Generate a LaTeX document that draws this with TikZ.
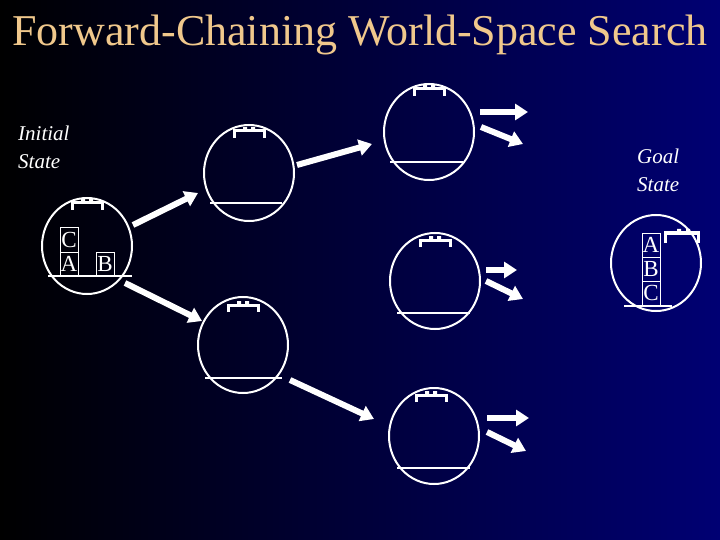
\documentclass[tikz,border=0pt]{standalone}
\usepackage{fontspec}
\setmainfont{Liberation Serif}
\usetikzlibrary{arrows.meta,shapes.geometric}
\definecolor{navybg}{RGB}{0,0,115}
\definecolor{titlec}{RGB}{240,200,140}
\tikzset{
  world/.style={draw=white,line width=2pt,ellipse,minimum width=90pt,minimum height=96pt,inner sep=0pt},
  floorline/.style={white,line width=1.6pt},
  bigarrow/.style={white,line width=6pt,-{Triangle[length=13pt,width=16pt]}},
  blk/.style={draw=white,line width=1pt,minimum width=18pt,minimum height=24pt,inner sep=0pt,text=white,font=\fontsize{23}{23}\selectfont},
  lbl/.style={text=white,font=\itshape\fontsize{21}{28}\selectfont,align=left,anchor=north west,inner sep=0pt},
  gripper/.pic={
    \draw[white,line width=3pt] (-15,7) -- (-15,0) -- (15,0) -- (15,7);
    \fill[white] (-6,-4) rectangle (-2,0) (2,-4) rectangle (6,0);
  }
}
\begin{document}
\begin{tikzpicture}[x=1pt,y=-1pt]
\shade[left color=black,right color=navybg] (0,0) rectangle (720,540);
\useasboundingbox (0,0) rectangle (720,540);
\node[text=titlec,font=\fontsize{44}{44}\selectfont] (title) at (360,35) {Forward-Chaining World-Space Search};
\node[lbl] (initlbl) at (18,126) {Initial\\State};
\node[lbl] (goallbl) at (637,149) {Goal\\State};
% worlds
\node[world] (init) at (87,246) {};
\node[world] (tm) at (249,173) {};
\node[world] (bm) at (243,345) {};
\node[world] (rt) at (429,132) {};
\node[world] (rm) at (435,281) {};
\node[world] (rb) at (434,436) {};
\node[world] (goal) at (656,263) {};
% floors
\draw[floorline] (48,276) -- (132,276);
\draw[floorline] (210,203) -- (282,203);
\draw[floorline] (205,378) -- (282,378);
\draw[floorline] (390,162) -- (463,162);
\draw[floorline] (397,313) -- (470,313);
\draw[floorline] (397,468) -- (470,468);
\draw[floorline] (624,306) -- (672,306);
% grippers
\pic at (87,203) {gripper};
\pic at (249,131) {gripper};
\pic at (243,305) {gripper};
\pic at (429,89) {gripper};
\pic at (435,240) {gripper};
\pic at (431,395) {gripper};
\draw[white,line width=3pt] (665,243) -- (665,233) -- (698,233) -- (698,243);
\fill[white] (677,229) rectangle (681,233) (686,229) rectangle (690,233);
% blocks
\node[blk] (C) at (69,240) {C};
\node[blk] (A) at (69,264) {A};
\node[blk] (B) at (105,264) {B};
\node[blk] (gA) at (651,245) {A};
\node[blk] (gB) at (651,269) {B};
\node[blk] (gC) at (651,293) {C};
% arrow ends
\coordinate (a1s) at (133,225); \coordinate (a1e) at (198,193);
\coordinate (a2s) at (125,283); \coordinate (a2e) at (202,321);
\coordinate (a3s) at (297,165); \coordinate (a3e) at (372,144);
\coordinate (a4s) at (290,380); \coordinate (a4e) at (374,419);
\coordinate (r1s) at (480,112); \coordinate (r1e) at (528,112);
\coordinate (r2s) at (481,127); \coordinate (r2e) at (523,144);
\coordinate (m1s) at (486,270); \coordinate (m1e) at (517,270);
\coordinate (m2s) at (486,281); \coordinate (m2e) at (523,299);
\coordinate (b1s) at (487,418); \coordinate (b1e) at (529,418);
\coordinate (b2s) at (487,432); \coordinate (b2e) at (526,451);
\foreach \s/\e in {a1s/a1e,a2s/a2e,a3s/a3e,a4s/a4e,r1s/r1e,r2s/r2e,m1s/m1e,m2s/m2e,b1s/b1e,b2s/b2e}
  \draw[bigarrow] (\s) -- (\e);
\end{tikzpicture}
\end{document}
